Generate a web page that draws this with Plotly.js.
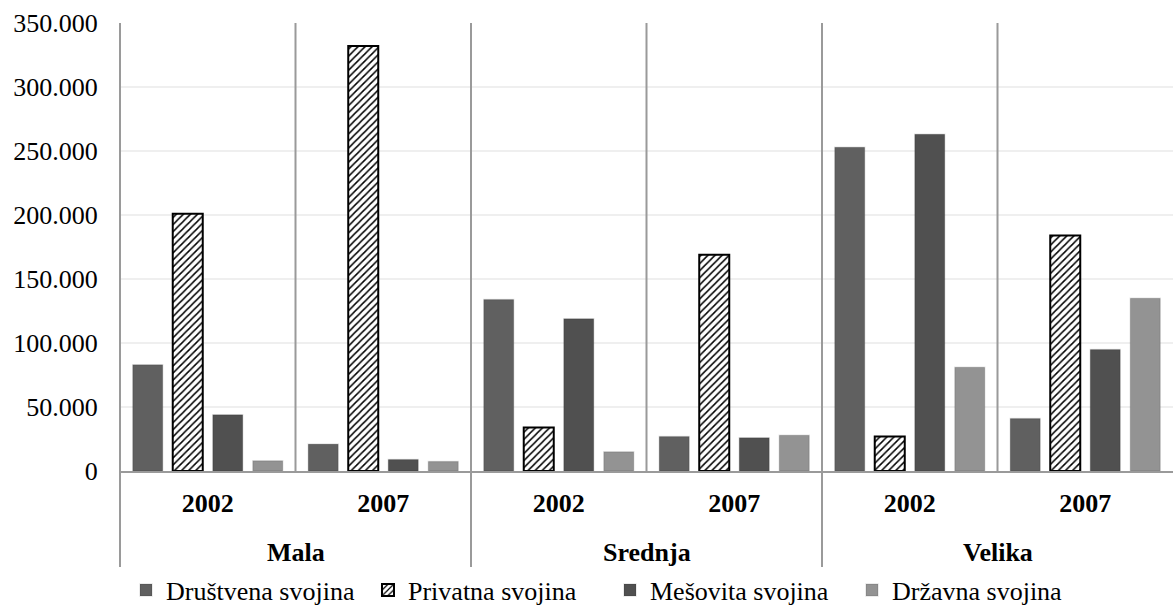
<!DOCTYPE html>
<html><head><meta charset="utf-8">
<script src="https://cdn.plot.ly/plotly-3.0.1.min.js"></script>
<style>html,body{margin:0;padding:0;overflow:hidden;background:#fff}</style>
</head><body><div id="chart" style="width:1173px;height:608px"></div>
<script>
const groups = ['Mala', 'Srednja', 'Velika'];
const years = ['2002', '2007'];
const seriesNames = ['Društvena svojina', 'Privatna svojina', 'Mešovita svojina', 'Državna svojina'];
const drustvena = [83000, 21000, 134000, 27000, 253000, 41000];
const privatna  = [201000, 332000, 34000, 169000, 27000, 184000];
const mesovita  = [44000, 9000, 119000, 26000, 263000, 95000];
const drzavna   = [8000, 7500, 15000, 28000, 81000, 135000];
const yTicks = [0, 50000, 100000, 150000, 200000, 250000, 300000, 350000];

const FONT = '"Liberation Serif", "Times New Roman", "DejaVu Serif", serif';
const categories = [];
const tickText = [];
groups.forEach(g => years.forEach(y => { categories.push(g + ' ' + y); tickText.push(y); }));

const shadowLine = {color: 'rgba(0,0,0,0.10)', width: 1.5};
const traces = [
  {type: 'bar', name: seriesNames[0], x: categories, y: drustvena,
   marker: {color: '#606060', line: shadowLine}},
  {type: 'bar', name: seriesNames[1], x: categories, y: privatna,
   marker: {color: '#ffffff', line: {color: '#000000', width: 2},
            pattern: {shape: '/', fgcolor: '#000000', bgcolor: '#ffffff', size: 5, solidity: 0.3}}},
  {type: 'bar', name: seriesNames[2], x: categories, y: mesovita,
   marker: {color: '#505050', line: shadowLine}},
  {type: 'bar', name: seriesNames[3], x: categories, y: drzavna,
   marker: {color: '#939393', line: shadowLine}}
];
traces.forEach(t => { t.hoverinfo = 'none'; });

const plotH = 448;
const shapes = [];
const nCat = categories.length;
for (let i = 0; i < nCat; i++) {
  const isGroup = (i % years.length) === 0;
  shapes.push({type: 'line', xref: 'paper', yref: 'paper',
    x0: i / nCat, x1: i / nCat, y0: isGroup ? -96 / plotH : 0, y1: 1,
    line: {color: '#9a9a9a', width: 2}, layer: 'above'});
}
const annotations = groups.map((g, gi) => ({
  xref: 'paper', yref: 'paper',
  x: (gi * years.length + years.length / 2) / nCat, y: -81 / plotH,
  xanchor: 'center', yanchor: 'middle', showarrow: false,
  text: g, font: {family: FONT, size: 26, color: '#000', weight: 'bold'}
}));

const layout = {
  width: 1173, height: 608,
  margin: {l: 120, r: 0, t: 23, b: 137, pad: 0, autoexpand: false},
  paper_bgcolor: '#fff', plot_bgcolor: '#fff',
  separators: ',.',
  barmode: 'group', bargap: 0.088, bargroupgap: 0.25,
  font: {family: FONT, size: 26, color: '#000'},
  xaxis: {type: 'category', tickvals: categories, ticktext: tickText,
    tickfont: {family: FONT, size: 26, color: '#000', weight: 'bold'},
    ticks: 'outside', ticklen: 8, tickcolor: 'rgba(0,0,0,0)',
    showline: true, linecolor: '#9a9a9a', linewidth: 2, showgrid: false, fixedrange: true, automargin: false},
  yaxis: {range: [0, 350000], tickvals: yTicks, tickformat: ',d',
    tickfont: {family: FONT, size: 26, color: '#000'},
    ticks: 'outside', ticklen: 16, tickcolor: 'rgba(0,0,0,0)',
    showgrid: true, gridcolor: '#efefef', gridwidth: 1.5,
    zeroline: false, showline: false, fixedrange: true, automargin: false},
  legend: {orientation: 'h', xref: 'paper', yref: 'paper', x: 6 / 1053, xanchor: 'left',
    y: -119 / plotH, yanchor: 'middle', entrywidthmode: 'pixels', entrywidth: 197,
    font: {family: FONT, size: 26, color: '#000'}, itemwidth: 30, traceorder: 'normal'},
  shapes: shapes,
  annotations: annotations,
  showlegend: true
};
Plotly.newPlot('chart', traces, layout, {staticPlot: true, displayModeBar: false});
</script></body></html>
